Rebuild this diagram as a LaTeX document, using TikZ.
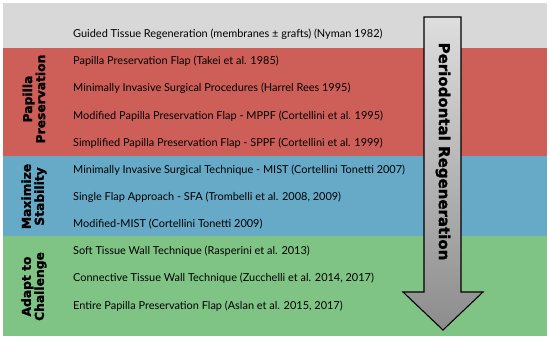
\documentclass[tikz,border=0pt]{standalone}
\usepackage{fontspec}
\setmainfont{Lato}
\newfontfamily\lblfont{DejaVu Sans}[BoldFeatures={FakeBold=1.5}]
\usetikzlibrary{shadings}
\definecolor{bandgray}{RGB}{216,216,216}
\definecolor{bandred}{RGB}{206,95,88}
\definecolor{bandblue}{RGB}{102,170,200}
\definecolor{bandgreen}{RGB}{127,196,133}
\definecolor{arrowtop}{RGB}{222,222,222}
\definecolor{arrowbot}{RGB}{140,140,140}
\begin{document}
\begin{tikzpicture}[x=1pt,y=-1pt,
  item/.style={anchor=west,inner sep=0pt,font=\fontsize{10.95}{13}\selectfont},
  grouplbl/.style={rotate=90,align=center,inner sep=0pt,font=\lblfont\bfseries\fontsize{12.3}{13}\selectfont}]
\useasboundingbox (0,0) rectangle (550,340);
\fill[white] (0,0) rectangle (550,340);
% bands
\fill[bandgray]  (3,3)   rectangle (547,48);
\fill[bandred]   (3,48)  rectangle (547,156);
\fill[bandblue]  (3,156) rectangle (547,236);
\fill[bandgreen] (3,236) rectangle (547,336);
% items
\node[item] (t1) at (73,34)  {Guided Tissue Regeneration (membranes ± grafts) (Nyman 1982)};
\node[item] (t2) at (73,61)  {Papilla Preservation Flap (Takei et al. 1985)};
\node[item] (t3) at (73,88)  {Minimally Invasive Surgical Procedures (Harrel Rees 1995)};
\node[item] (t4) at (73,116) {Modified Papilla Preservation Flap - MPPF (Cortellini et al. 1995)};
\node[item] (t5) at (73,143) {Simplified Papilla Preservation Flap - SPPF (Cortellini et al. 1999)};
\node[item] (t6) at (73,170) {Minimally Invasive Surgical Technique - MIST (Cortellini Tonetti 2007)};
\node[item] (t7) at (73,197) {Single Flap Approach - SFA (Trombelli et al. 2008, 2009)};
\node[item] (t8) at (73,224) {Modified-MIST (Cortellini Tonetti 2009)};
\node[item] (t9) at (73,251) {Soft Tissue Wall Technique (Rasperini et al. 2013)};
\node[item] (t10) at (73,278) {Connective Tissue Wall Technique (Zucchelli et al. 2014, 2017)};
\node[item] (t11) at (73,306) {Entire Papilla Preservation Flap (Aslan et al. 2015, 2017)};
% group labels
\node[grouplbl] (g1) at (34,99)  {Papilla\\Preservation};
\node[grouplbl] (g2) at (34,196.5) {Maximize\\Stability};
\node[grouplbl] (g3) at (34,286.5) {Adapt to\\Challenge};
% arrow
\path[draw=black,line width=1.1pt,line join=miter,top color=arrowtop,bottom color=arrowbot]
  (424,17) -- (461,17) -- (461,292) -- (483,292) -- (443,330) -- (403,292) -- (424,292) -- cycle;
\node[rotate=-90,inner sep=0pt,font=\lblfont\bfseries\fontsize{15}{15}\selectfont] (arr) at (443,151.5) {Periodontal Regeneration};
\end{tikzpicture}
\end{document}
